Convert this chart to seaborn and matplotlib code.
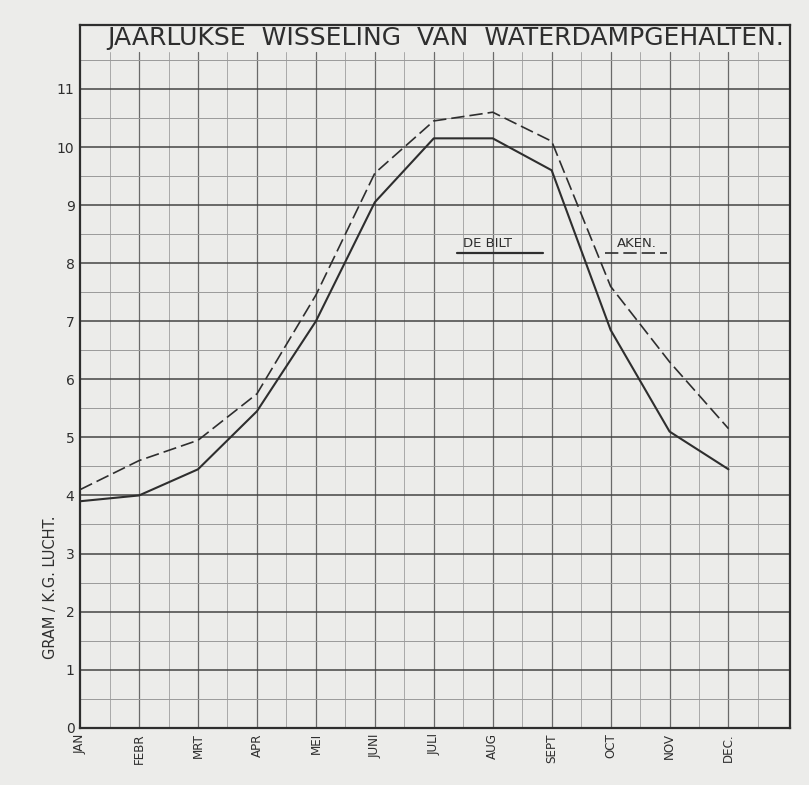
import matplotlib
matplotlib.use("Agg")
import matplotlib.pyplot as plt
import seaborn as sns
import pandas as pd
import numpy as np

months = ["JAN", "FEBR", "MRT", "APR", "MEI", "JUNI", "JULI", "AUG", "SEPT", "OCT", "NOV", "DEC."]
de_bilt = [3.9, 4.0, 4.45, 5.45, 7.0, 9.05, 10.15, 10.15, 9.6, 6.85, 5.1, 4.45]
aken = [4.1, 4.6, 4.95, 5.75, 7.45, 9.55, 10.45, 10.6, 10.1, 7.6, 6.3, 5.15]
y_ticks = list(range(0, 12))

paper = "#ececea"
ink = "#2e2e2e"

sns.set_style("white", {"axes.facecolor": paper, "figure.facecolor": paper})
plt.rcParams["font.family"] = ["DejaVu Sans"]

fig = plt.figure(figsize=(8.09, 7.85), dpi=100)
ax = fig.add_axes([0.099, 0.073, 0.878, 0.895])

df = pd.DataFrame({
    "maand": list(range(len(months))) * 2,
    "waarde": de_bilt + aken,
    "station": ["DE BILT"] * len(months) + ["AKEN"] * len(months),
})

sns.lineplot(data=df[df.station == "DE BILT"], x="maand", y="waarde", ax=ax,
             color=ink, lw=1.5, legend=False, zorder=5)
sns.lineplot(data=df[df.station == "AKEN"], x="maand", y="waarde", ax=ax,
             color=ink, lw=1.2, dashes=False, legend=False, zorder=5,
             linestyle=(0, (8, 3)))

ax.set_xlim(0, 12.05)
ax.set_ylim(0, 12.1)

# grid: major and half lines
for v in np.arange(0.5, 12.0, 0.5):
    major = float(v).is_integer()
    ax.axvline(v, ymax=0.962, color="#6a6a6a" if major else "#a8a8a8",
               lw=0.9 if major else 0.7, zorder=1)
for h in np.arange(0.5, 11.6, 0.5):
    major = float(h).is_integer()
    ax.axhline(h, color="#444444" if major else "#9a9a9a", lw=1.1 if major else 0.7, zorder=1)

ax.set_xticks(range(len(months)))
ax.set_xticklabels(months, rotation=90, fontsize=9.5, color=ink, fontstretch="condensed")
ax.set_yticks(y_ticks)
ax.set_yticklabels([str(t) for t in y_ticks], fontsize=10, color=ink)
ax.tick_params(axis="both", length=0, pad=4)
ax.set_xlabel("")
ax.set_ylabel("GRAM / K.G. LUCHT.", fontsize=10.5, color=ink)
ax.yaxis.set_label_coords(-0.031, 0.2)

for s in ax.spines.values():
    s.set_color(ink)
    s.set_linewidth(1.6)

ax.text(6.2, 11.88, "JAARLUKSE  WISSELING  VAN  WATERDAMPGEHALTEN.", ha="center", va="center",
        fontsize=18, color=ink, zorder=6)

# legend labels
ax.text(6.5, 8.22, "DE BILT", fontsize=9.5, color=ink, va="bottom", ha="left", zorder=6)
ax.text(9.1, 8.22, "AKEN.", fontsize=9.5, color=ink, va="bottom", ha="left", zorder=6)
ax.plot([6.4, 7.85], [8.18, 8.18], color=ink, lw=1.6, zorder=6)
ax.plot([8.9, 9.95], [8.18, 8.18], color=ink, lw=1.2, linestyle=(0, (8, 3)), zorder=6)

fig.savefig("out.png", dpi=100, facecolor=paper)
